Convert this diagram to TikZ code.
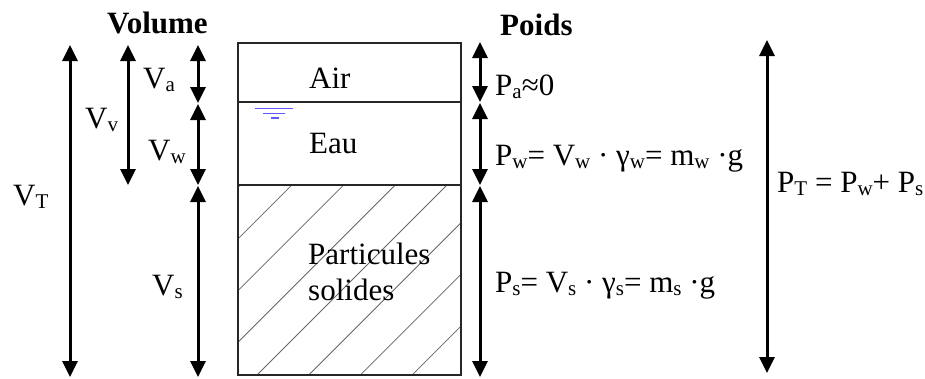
\documentclass[tikz,border=0pt]{standalone}
\usepackage{fontspec}
\setmainfont{Liberation Serif}
\usetikzlibrary{arrows.meta}
\definecolor{waterblue}{RGB}{90,90,255}
\newcommand\subx[1]{\raisebox{-3pt}{\fontsize{21}{21}\selectfont #1}}
\begin{document}
\begin{tikzpicture}[x=1pt,y=-1pt,
  lbl/.style={anchor=base west,inner sep=0pt,font=\fontsize{31}{33}\selectfont},
  ttl/.style={anchor=base west,inner sep=0pt,font=\fontsize{31}{33}\selectfont\bfseries},
  dim/.style={line width=3pt,{Triangle[length=16pt,width=15pt]}-{Triangle[length=16pt,width=15pt]}},
  boxline/.style={line width=1.5pt,draw=black!85},
  hatch/.style={line width=0.8pt,draw=black!60},
  water/.style={line width=1.6pt,draw=waterblue}]
\useasboundingbox (0,0) rectangle (925,378);
% box
\coordinate (btl) at (238,43);
\coordinate (bbr) at (461,375);
\begin{scope}
  \clip (238,185) rectangle (461,375);
  \foreach \k in {-4,...,3}{
    \draw[hatch] ({257+51.7*\k},375) -- ++(200,-200);
  }
\end{scope}
\draw[boxline] (btl) rectangle (bbr);
\draw[boxline] (238,102) -- (461,102);
\draw[boxline] (238,185) -- (461,185);
% water symbol
\draw[water] (255,108.3) -- (293,108.3);
\draw[water] (263,113.3) -- (285,113.3);
\draw[water] (271,118) -- (279,118);
% box texts
\node[lbl] (air) at (309,88) {Air};
\node[lbl] (eau) at (309,153) {Eau};
\node[lbl] (part) at (308,264) {Particules};
\node[lbl] (sol) at (308,300) {solides};
% titles
\node[ttl] (vol) at (107,33) {Volume};
\node[ttl] (poids) at (500,35) {Poids};
% volume arrows
\coordinate (vt1) at (70,45);  \coordinate (vt2) at (70,377);
\coordinate (vv1) at (128,45); \coordinate (vv2) at (128,185);
\coordinate (va1) at (198,45); \coordinate (va2) at (198,103);
\coordinate (vw1) at (198,104); \coordinate (vw2) at (198,185);
\coordinate (vs1) at (198,186); \coordinate (vs2) at (198,377);
\draw[dim] (vt1) -- (vt2);
\draw[dim] (vv1) -- (vv2);
\draw[dim] (va1) -- (va2);
\draw[dim] (vw1) -- (vw2);
\draw[dim] (vs1) -- (vs2);
\node[lbl] (lva) at (143,88) {V\subx{a}};
\node[lbl] (lvv) at (85,128) {V\subx{v}};
\node[lbl] (lvw) at (148,160) {V\subx{w}};
\node[lbl] (lvt) at (13,205) {V\subx{T}};
\node[lbl] (lvs) at (152,295) {V\subx{s}};
% weight arrows
\coordinate (pa1) at (480,42);  \coordinate (pa2) at (480,102);
\coordinate (pw1) at (480,103); \coordinate (pw2) at (480,185);
\coordinate (ps1) at (480,186); \coordinate (ps2) at (480,377);
\coordinate (pt1) at (767,40);  \coordinate (pt2) at (767,373);
\draw[dim] (pa1) -- (pa2);
\draw[dim] (pw1) -- (pw2);
\draw[dim] (ps1) -- (ps2);
\draw[dim] (pt1) -- (pt2);
\node[lbl] (lpa) at (495,95) {P\subx{a}≈0};
\node[lbl] (lpw) at (495,165) {P\subx{w}= V\subx{w} · γ\subx{w}= m\subx{w} ·g};
\node[lbl] (lps) at (495,292) {P\subx{s}= V\subx{s} · γ\subx{s}= m\subx{s} ·g};
\node[lbl] (lpt) at (777,192) {P\subx{T} = P\subx{w}+ P\subx{s}};
\end{tikzpicture}
\end{document}
